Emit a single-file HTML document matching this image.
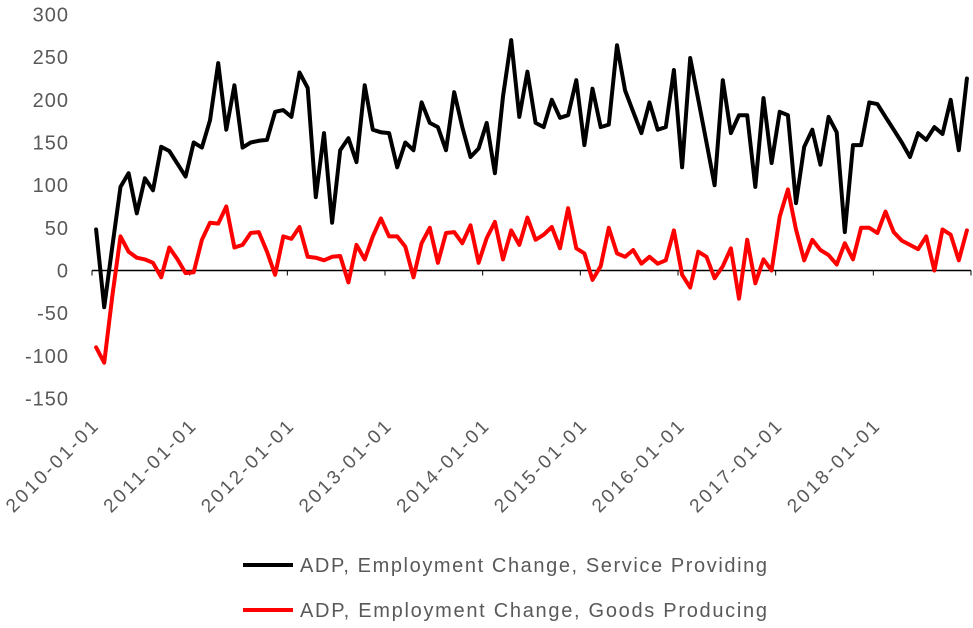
<!DOCTYPE html>
<html><head><meta charset="utf-8"><style>
body{margin:0;background:#fff;}
svg{display:block;font-family:"Liberation Sans",Arial,sans-serif;}
</style></head><body>
<svg id="chart" width="973" height="628" viewBox="0 0 973 628">
<g id="yaxis"></g>
<g id="xaxis"></g>
<g id="series"></g>
<g>
<g>
<line x1="243" y1="565" x2="293" y2="565" stroke="#000" stroke-width="4"/>
<text x="300" y="572" font-size="20" fill="#595959" textLength="467" lengthAdjust="spacing">ADP, Employment Change, Service Providing</text></g>
<g>
<line x1="243" y1="610" x2="293" y2="610" stroke="#ff0000" stroke-width="4"/>
<text x="300" y="617" font-size="20" fill="#595959" textLength="467" lengthAdjust="spacing">ADP, Employment Change, Goods Producing</text></g>
</g>
</svg>
<script>
const yTicks=[300,250,200,150,100,50,0,-50,-100,-150];
const xLabels=["2010-01-01","2011-01-01","2012-01-01","2013-01-01","2014-01-01","2015-01-01","2016-01-01","2017-01-01","2018-01-01"];
const serviceProviding=[48,-43,28,98,114,67,108,94,145,140,125,110,
150,144,176,243,165,217,144,150,152,153,186,188,
180,232,214,86,161,56,141,155,127,217,165,162,
161,121,150,141,197,173,168,141,209,168,133,143,
173,114,204,270,180,233,173,168,200,179,182,223,
147,213,168,171,264,211,186,161,197,165,168,235,
121,249,200,150,100,223,161,182,182,98,202,126,
186,182,79,145,165,124,180,162,45,147,147,197,
195,180,165,150,133,161,153,168,160,200,141,225];
const goodsProducing=[-90,-108,-30,40,22,15,13,9,-8,27,13,-3,
-2,36,56,55,75,27,30,44,45,22,-5,40,
37,51,16,15,12,16,17,-14,30,13,40,61,
40,40,28,-8,32,50,9,44,45,32,53,9,
38,57,13,47,30,62,36,42,51,26,73,26,
20,-11,5,50,20,16,24,8,16,8,12,47,
-5,-20,22,16,-9,5,26,-33,36,-15,13,0,
63,95,48,12,36,24,18,7,32,13,50,50,
44,69,45,35,30,25,40,0,48,42,12,47];
const NS="http://www.w3.org/2000/svg";
const y0px=270.5, ppu=0.8533;
function yScale(v){return y0px-v*ppu;}
const n=serviceProviding.length;
const axL=92, axR=971;
const step=(axR-axL)/n;
function xScale(i){return axL+step*(i+0.5);}
function mk(tag,attrs,parent){const e=document.createElementNS(NS,tag);for(const k in attrs)e.setAttribute(k,attrs[k]);parent.appendChild(e);return e;}
const ya=document.getElementById('yaxis');
yTicks.forEach(v=>{
 const t=mk('text',{x:69,y:yScale(v)+7,'text-anchor':'end','font-size':20,'letter-spacing':1,fill:'#595959'},ya);
 
 
 t.textContent=v;
});
const xa=document.getElementById('xaxis');
const ax=mk('line',{x1:axL,y1:y0px,x2:axR,y2:y0px,stroke:'#000','stroke-width':1.5},xa);


for(let k=0;k<=Math.ceil(n/12);k++){
 const tx=axL+step*12*k;
 if(tx>axR+1)break;
 const tk=mk('line',{x1:tx,y1:y0px,x2:tx,y2:y0px+5,stroke:'#000','stroke-width':1},xa);
 
 
}
xLabels.forEach((lab,k)=>{
 const tx=axL+step*12*k+7;
 const t=mk('text',{x:tx,y:428,'text-anchor':'end','font-size':19,fill:'#595959',textLength:121,lengthAdjust:'spacing',transform:`rotate(-45 ${tx} 428)`},xa);
 
 
 t.textContent=lab;
});
const sg=document.getElementById('series');
function line(arr,color,name){
 const d=arr.map((v,i)=>(i?'L':'M')+xScale(i).toFixed(1)+' '+yScale(v).toFixed(1)).join(' ');
 const p=mk('path',{d:d,fill:'none',stroke:color,'stroke-width':4,'stroke-linejoin':'round','stroke-linecap':'round'},sg);
 
 
}
line(serviceProviding,'#000','service-providing-line');
line(goodsProducing,'#ff0000','goods-producing-line');
</script>
</body></html>
